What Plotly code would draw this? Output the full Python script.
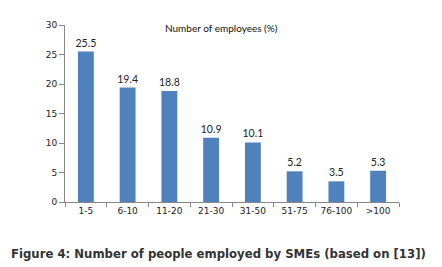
import plotly.graph_objects as go

categories = ["1-5", "6-10", "11-20", "21-30", "31-50", "51-75", "76-100", ">100"]
values = [25.5, 19.4, 18.8, 10.9, 10.1, 5.2, 3.5, 5.3]
value_labels = ["25.5", "19.4", "18.8", "10.9", "10.1", "5.2", "3.5", "5.3"]
y_ticks = [0, 5, 10, 15, 20, 25, 30]

# page body has an 8px default margin; compensate so the figure lands where the reference is
OFF = 8
W, H = 442 - OFF, 267 - OFF
L, T, PW, PH = 65 - OFF, 21 - OFF, 334, 181

fig = go.Figure()
fig.add_trace(go.Bar(
    x=categories, y=values, text=value_labels, textposition="outside",
    constraintext="none",
    textfont=dict(family="Lato", size=10.5, color="#222"),
    marker=dict(color="#4F81BD", line=dict(width=0)),
    cliponaxis=False,
))
fig.update_layout(
    width=W, height=H,
    margin=dict(l=L, r=W - L - PW, t=T, b=H - T - PH),
    paper_bgcolor="white", plot_bgcolor="white",
    bargap=0.62, showlegend=False,
    font=dict(family="Lato", size=10, color="#222"),
    annotations=[
        dict(text="Number of employees (%)", x=(221 - 65) / PW, y=1 + (21 - 24) / PH,
             xref="paper", yref="paper", yanchor="middle", xanchor="center",
             showarrow=False, font=dict(family="Lato", size=10, color="#111")),
        dict(text="<b>Figure 4: Number of people employed by SMEs (based on [13])</b>",
             x=-(L - 1) / PW, y=-(255 - 202) / PH, xref="paper", yref="paper",
             xanchor="left", yanchor="middle", showarrow=False,
             font=dict(family="DejaVu Sans", size=11.7, color="#333")),
    ],
)
fig.update_xaxes(showline=True, linecolor="#888", linewidth=1, ticks="outside",
                 tickson="boundaries", ticklen=4, tickcolor="#888",
                 tickfont=dict(family="DejaVu Sans", size=9, color="#222"))
fig.update_yaxes(range=[0, 30], tickvals=y_ticks, showline=True, linecolor="#888",
                 linewidth=1, ticks="outside", ticklen=5, tickcolor="#888",
                 showgrid=False, zeroline=False,
                 tickfont=dict(family="DejaVu Sans", size=9, color="#222"))
fig.write_html("out.html")
